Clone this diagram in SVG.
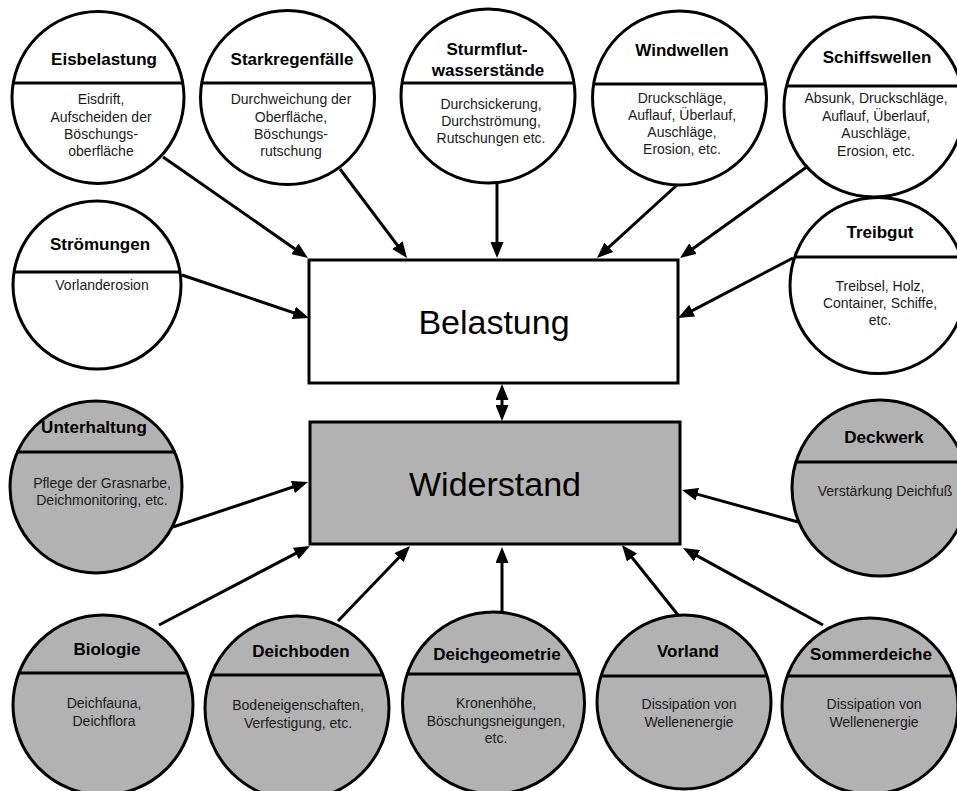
<svg xmlns="http://www.w3.org/2000/svg" width="957" height="791" viewBox="0 0 957 791">
  <style>
    .load { fill: #ffffff; stroke: #000; stroke-width: 3; }
    .resist { fill: #b2b2b2; stroke: #000; stroke-width: 3; }
    .div { stroke: #000; stroke-width: 3; }
    .title { font-family: "Liberation Sans", Arial, sans-serif; font-weight: bold; font-size: 17px; fill: #000; text-anchor: middle; }
    .body { font-family: "Liberation Sans", Arial, sans-serif; font-size: 14px; fill: #1a1a1a; text-anchor: middle; }
    .big { font-family: "Liberation Sans", Arial, sans-serif; font-size: 34px; fill: #000; text-anchor: middle; }
    .conn { stroke: #000; stroke-width: 3; fill: none; marker-end: url(#head); }
  </style>
  <defs>
    <marker id="head" markerUnits="userSpaceOnUse" markerWidth="16" markerHeight="13" refX="8" refY="6.5" orient="auto-start-reverse">
      <path d="M0,0 L16,6.5 L0,13 z" fill="#000"/>
    </marker>
  </defs>
  <rect width="957" height="791" fill="#ffffff"/>

  <!-- connectors (drawn under the nodes) -->
  <g id="connectors">
    <line class="conn" x1="163" y1="157" x2="301.4" y2="253.4"/>
    <line class="conn" x1="340" y1="169" x2="402.2" y2="251.6"/>
    <line class="conn" x1="497" y1="180" x2="497" y2="250"/>
    <line class="conn" x1="677" y1="185" x2="602.9" y2="252.6"/>
    <line class="conn" x1="808" y1="166" x2="686.5" y2="253.3"/>
    <line class="conn" x1="182" y1="275" x2="301.4" y2="315.4"/>
    <line class="conn" x1="793" y1="258" x2="685.1" y2="314.3"/>
    <line class="conn" x1="173" y1="527" x2="300.4" y2="484.5"/>
    <line class="conn" x1="798" y1="522" x2="689.7" y2="492.1"/>
    <line class="conn" x1="159" y1="625" x2="302.9" y2="549.7"/>
    <line class="conn" x1="338" y1="621" x2="404.5" y2="551.8"/>
    <line class="conn" x1="502" y1="614" x2="502" y2="555"/>
    <line class="conn" x1="678" y1="615" x2="627" y2="551.3"/>
    <line class="conn" x1="823" y1="625" x2="690" y2="551.9"/>
    <line class="conn" x1="502" y1="392" x2="502" y2="413" style="marker-start: url(#head)"/>
  </g>

  <!-- central boxes -->
  <g id="belastung">
    <rect class="load" x="309" y="260" width="369" height="123"/>
    <text class="big" x="494" y="334">Belastung</text>
  </g>
  <g id="widerstand">
    <rect class="resist" x="310" y="422" width="370" height="122"/>
    <text class="big" x="495" y="496">Widerstand</text>
  </g>

  <!-- load factors -->
  <g id="eisbelastung">
    <circle class="load" cx="98" cy="97.5" r="86"/>
    <line class="div" x1="13" y1="83" x2="183" y2="83"/>
    <text class="title" x="104" y="65">Eisbelastung</text>
    <text class="body" x="101" y="104">Eisdrift,</text>
    <text class="body" x="101" y="122">Aufscheiden der</text>
    <text class="body" x="101" y="139">Böschungs-</text>
    <text class="body" x="101" y="156">oberfläche</text>
  </g>
  <g id="starkregen">
    <circle class="load" cx="287.5" cy="97.5" r="87"/>
    <line class="div" x1="202" y1="83" x2="373" y2="83"/>
    <text class="title" x="292" y="65">Starkregenfälle</text>
    <text class="body" x="291" y="104">Durchweichung der</text>
    <text class="body" x="291" y="122">Oberfläche,</text>
    <text class="body" x="291" y="139">Böschungs-</text>
    <text class="body" x="291" y="156">rutschung</text>
  </g>
  <g id="sturmflut">
    <circle class="load" cx="488" cy="96" r="87"/>
    <line class="div" x1="402" y1="83" x2="574" y2="83"/>
    <text class="title" x="487" y="55">Sturmflut-</text>
    <text class="title" x="488" y="76">wasserstände</text>
    <text class="body" x="491" y="109">Durchsickerung,</text>
    <text class="body" x="491" y="126">Durchströmung,</text>
    <text class="body" x="491" y="143">Rutschungen etc.</text>
  </g>
  <g id="windwellen">
    <circle class="load" cx="679.5" cy="98" r="87"/>
    <line class="div" x1="594" y1="84" x2="765" y2="84"/>
    <text class="title" x="682" y="56">Windwellen</text>
    <text class="body" x="682" y="103">Druckschläge,</text>
    <text class="body" x="682" y="120">Auflauf, Überlauf,</text>
    <text class="body" x="682" y="137">Auschläge,</text>
    <text class="body" x="682" y="154">Erosion, etc.</text>
  </g>
  <g id="schiffswellen">
    <circle class="load" cx="874" cy="107" r="90"/>
    <line class="div" x1="786.5" y1="86" x2="961" y2="86"/>
    <text class="title" x="877" y="63">Schiffswellen</text>
    <text class="body" x="876" y="103">Absunk, Druckschläge,</text>
    <text class="body" x="876" y="121">Auflauf, Überlauf,</text>
    <text class="body" x="876" y="138">Auschläge,</text>
    <text class="body" x="876" y="156">Erosion, etc.</text>
  </g>
  <g id="stroemungen">
    <circle class="load" cx="97" cy="285" r="84"/>
    <line class="div" x1="14" y1="272" x2="180" y2="272"/>
    <text class="title" x="100" y="250">Strömungen</text>
    <text class="body" x="102" y="290">Vorlanderosion</text>
  </g>
  <g id="treibgut">
    <circle class="load" cx="878" cy="285.5" r="88"/>
    <line class="div" x1="795" y1="257" x2="961" y2="257"/>
    <text class="title" x="880" y="238">Treibgut</text>
    <text class="body" x="880" y="291">Treibsel, Holz,</text>
    <text class="body" x="880" y="308">Container, Schiffe,</text>
    <text class="body" x="880" y="325">etc.</text>
  </g>

  <!-- resistance factors -->
  <g id="unterhaltung">
    <circle class="resist" cx="96" cy="487" r="86"/>
    <line class="div" x1="16" y1="452" x2="176" y2="452"/>
    <text class="title" x="94" y="433">Unterhaltung</text>
    <text class="body" x="102" y="488">Pflege der Grasnarbe,</text>
    <text class="body" x="102" y="505">Deichmonitoring, etc.</text>
  </g>
  <g id="deckwerk">
    <circle class="resist" cx="880" cy="488" r="88"/>
    <line class="div" x1="796" y1="462" x2="964" y2="462"/>
    <text class="title" x="884" y="443">Deckwerk</text>
    <text class="body" x="885" y="496">Verstärkung Deichfuß</text>
  </g>
  <g id="biologie">
    <circle class="resist" cx="103" cy="705" r="90"/>
    <line class="div" x1="19" y1="673" x2="187" y2="673"/>
    <text class="title" x="107" y="655">Biologie</text>
    <text class="body" x="104" y="708">Deichfauna,</text>
    <text class="body" x="104" y="726">Deichflora</text>
  </g>
  <g id="deichboden">
    <circle class="resist" cx="297" cy="708" r="92"/>
    <line class="div" x1="211" y1="675" x2="383" y2="675"/>
    <text class="title" x="301" y="657">Deichboden</text>
    <text class="body" x="298" y="710">Bodeneigenschaften,</text>
    <text class="body" x="298" y="728">Verfestigung, etc.</text>
  </g>
  <g id="deichgeometrie">
    <circle class="resist" cx="493.5" cy="703" r="91"/>
    <line class="div" x1="407" y1="674" x2="580" y2="674"/>
    <text class="title" x="497" y="660">Deichgeometrie</text>
    <text class="body" x="496" y="708">Kronenhöhe,</text>
    <text class="body" x="496" y="726">Böschungsneigungen,</text>
    <text class="body" x="496" y="743">etc.</text>
  </g>
  <g id="vorland">
    <circle class="resist" cx="684" cy="702" r="87"/>
    <line class="div" x1="601" y1="676" x2="767" y2="676"/>
    <text class="title" x="688" y="657">Vorland</text>
    <text class="body" x="689" y="709">Dissipation von</text>
    <text class="body" x="689" y="727">Wellenenergie</text>
  </g>
  <g id="sommerdeiche">
    <circle class="resist" cx="870" cy="706" r="88"/>
    <line class="div" x1="787" y1="676" x2="953" y2="676"/>
    <text class="title" x="871" y="660">Sommerdeiche</text>
    <text class="body" x="874" y="709">Dissipation von</text>
    <text class="body" x="874" y="727">Wellenenergie</text>
  </g>
</svg>
